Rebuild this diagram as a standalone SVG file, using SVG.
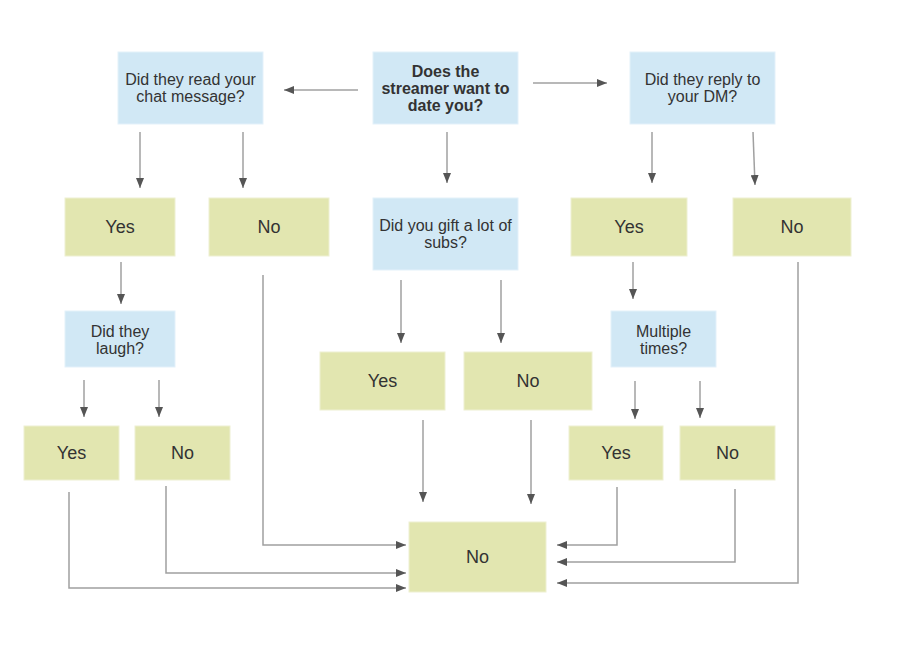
<svg xmlns="http://www.w3.org/2000/svg" width="900" height="654" viewBox="0 0 900 654">
<defs>
<marker id="ah" markerWidth="10" markerHeight="8" refX="10" refY="4" orient="auto" markerUnits="userSpaceOnUse">
<path d="M0,0 L10,4 L0,8 Z" fill="#555"/>
</marker>
<style>
.q{fill:#d1e8f5;stroke:#e3f1fa;stroke-width:1}
.a{fill:#e2e6b0;stroke:#eef0d2;stroke-width:1}
.t{font-family:Arial,"Liberation Sans",sans-serif;font-size:16px;fill:#333;text-anchor:middle}
.b{font-weight:bold}
.y{font-family:Arial,"Liberation Sans",sans-serif;font-size:18px;fill:#333;text-anchor:middle}
.c{fill:none;stroke:#a0a0a0;stroke-width:1.5;marker-end:url(#ah)}
</style>
</defs>
<rect width="900" height="654" fill="#fff"/>
<g id="connectors">
<path class="c" d="M358,90 H284"/>
<path class="c" d="M533,83 H607"/>
<path class="c" d="M447,132 V183"/>
<path class="c" d="M140,132 V188"/>
<path class="c" d="M243,132 V188"/>
<path class="c" d="M652,132 V183"/>
<path class="c" d="M753,132 L755,185"/>
<path class="c" d="M121,262 V304"/>
<path class="c" d="M401,280 V343"/>
<path class="c" d="M501,280 V343"/>
<path class="c" d="M633,262 V299"/>
<path class="c" d="M84,380 V417"/>
<path class="c" d="M159,380 V417"/>
<path class="c" d="M635,381 V419"/>
<path class="c" d="M700,381 V418"/>
<path class="c" d="M423,420 V502"/>
<path class="c" d="M531,420 V504"/>
<path class="c" d="M263,275 V545 H406"/>
<path class="c" d="M166,486 V573 H406"/>
<path class="c" d="M69,492 V588 H406"/>
<path class="c" d="M617,487 V545 H557"/>
<path class="c" d="M735,489 V562 H557"/>
<path class="c" d="M798,262 V583 H557"/>
</g>
<g id="root"><rect class="q" x="373" y="52" width="145" height="72"/>
<text class="t b" x="445.5" y="77">Does the</text><text class="t b" x="445.5" y="94">streamer want to</text><text class="t b" x="445.5" y="111">date you?</text></g>
<g id="read"><rect class="q" x="118" y="52" width="145" height="72"/>
<text class="t" x="190.5" y="85">Did they read your</text><text class="t" x="190.5" y="102">chat message?</text></g>
<g id="reply"><rect class="q" x="630" y="52" width="145" height="72"/>
<text class="t" x="702.5" y="85">Did they reply to</text><text class="t" x="702.5" y="102">your DM?</text></g>
<g id="yes1"><rect class="a" x="65" y="198" width="110" height="58"/><text class="y" x="120" y="233">Yes</text></g>
<g id="no1"><rect class="a" x="209" y="198" width="120" height="58"/><text class="y" x="269" y="233">No</text></g>
<g id="gift"><rect class="q" x="373" y="198" width="145" height="72"/>
<text class="t" x="445.5" y="231">Did you gift a lot of</text><text class="t" x="445.5" y="248">subs?</text></g>
<g id="yes2"><rect class="a" x="571" y="198" width="116" height="58"/><text class="y" x="629" y="233">Yes</text></g>
<g id="no2"><rect class="a" x="733" y="198" width="118" height="58"/><text class="y" x="792" y="233">No</text></g>
<g id="laugh"><rect class="q" x="65" y="311" width="110" height="56"/>
<text class="t" x="120" y="337">Did they</text><text class="t" x="120" y="354">laugh?</text></g>
<g id="multiple"><rect class="q" x="611" y="311" width="105" height="56"/>
<text class="t" x="663.5" y="337">Multiple</text><text class="t" x="663.5" y="354">times?</text></g>
<g id="yes3"><rect class="a" x="320" y="352" width="125" height="58"/><text class="y" x="382.5" y="387">Yes</text></g>
<g id="no3"><rect class="a" x="464" y="352" width="128" height="58"/><text class="y" x="528" y="387">No</text></g>
<g id="yes4"><rect class="a" x="24" y="426" width="95" height="54"/><text class="y" x="71.5" y="459">Yes</text></g>
<g id="no4"><rect class="a" x="135" y="426" width="95" height="54"/><text class="y" x="182.5" y="459">No</text></g>
<g id="yes5"><rect class="a" x="569" y="426" width="94" height="54"/><text class="y" x="616" y="459">Yes</text></g>
<g id="no5"><rect class="a" x="680" y="426" width="95" height="54"/><text class="y" x="727.5" y="459">No</text></g>
<g id="final"><rect class="a" x="409" y="522" width="137" height="70"/><text class="y" x="477.5" y="563">No</text></g>
</svg>
